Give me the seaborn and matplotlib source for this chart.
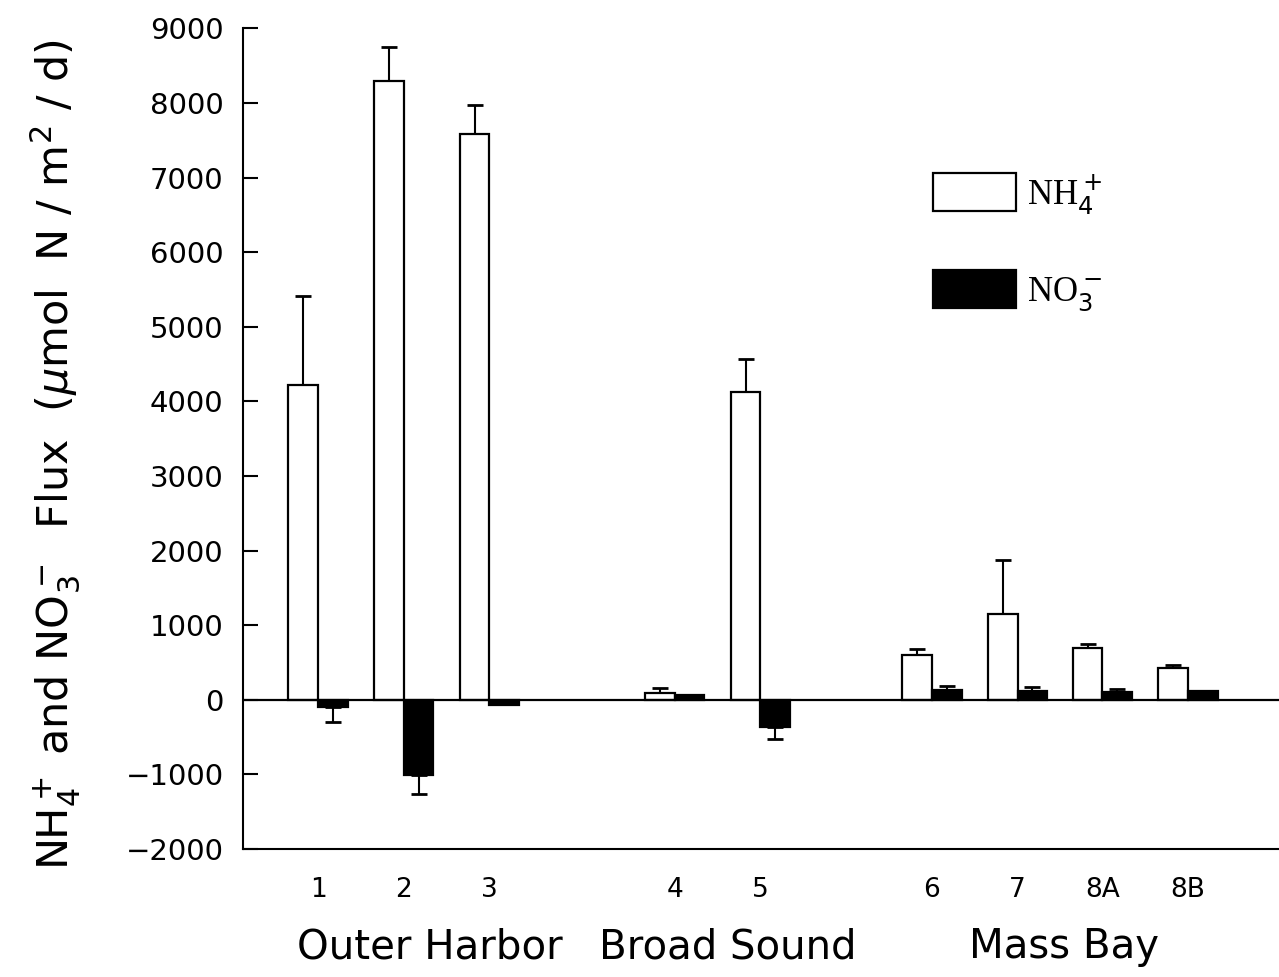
import matplotlib
matplotlib.use("Agg")
import matplotlib.pyplot as plt
import seaborn as sns
import pandas as pd
import numpy as np

# ---- data ----
sites = ['1', '2', '3', '4', '5', '6', '7', '8A', '8B']
site_pos = [0, 1, 2, 4.16, 5.16, 7.16, 8.16, 9.15, 10.15]
nh4 = [4220, 8300, 7580, 90, 4130, 600, 1150, 690, 430]
nh4_err = [1190, 450, 390, 70, 440, 80, 730, 60, 30]
no3 = [-100, -1010, -70, 70, -360, 130, 120, 100, 120]
no3_err = [200, 250, 0, 0, 160, 60, 55, 40, 0]
species = [r'NH$_4^+$', r'NO$_3^-$']
groups = ['Outer Harbor', 'Broad Sound', 'Mass Bay']
group_x = [1.3, 4.78, 8.7]
yticks = list(range(-2000, 9001, 1000))

df = pd.DataFrame({
    'pos': site_pos * 2,
    'val': nh4 + no3,
    'err': nh4_err + no3_err,
    'sp': [species[0]] * len(sites) + [species[1]] * len(sites),
})

sns.set_style('ticks')
plt.rcParams['font.family'] = ['DejaVu Sans']
plt.rcParams['mathtext.fontset'] = 'dejavusans'
plt.rcParams['text.color'] = 'black'
plt.rcParams['axes.labelcolor'] = 'black'

fig = plt.figure(figsize=(12.79, 9.77), dpi=100)
ax = fig.add_axes([0.19, 0.131, 0.81, 0.840])

sns.barplot(data=df, x='pos', y='val', hue='sp', hue_order=species,
            native_scale=True, width=0.7, errorbar=None,
            palette={species[0]: 'white', species[1]: 'black'},
            edgecolor='black', linewidth=1.6, ax=ax, zorder=3)

# one-sided error bars
for cont, sp in zip(ax.containers, species):
    sub = df[df['sp'] == sp].sort_values('pos')
    patches = sorted(cont.patches, key=lambda p: p.get_x())
    for p, (_, row) in zip(patches, sub.iterrows()):
        if row['err'] <= 0:
            continue
        xc = p.get_x() + p.get_width() / 2
        if row['val'] >= 0:
            yerr = [[0], [row['err']]]
        else:
            yerr = [[row['err']], [0]]
        ax.errorbar([xc], [row['val']], yerr=yerr, fmt='none', ecolor='black',
                    elinewidth=1.5, capsize=6, capthick=2.0, zorder=2)

ax.axhline(0, color='black', lw=1.6, zorder=4)

ax.set_xlim(-0.875, 11.21)
ax.set_ylim(-2000, 9000)
ax.set_yticks(yticks)
ax.set_yticklabels([str(v).replace('-', '\u2212') for v in yticks], fontsize=21)
ax.set_xticks(site_pos)
ax.set_xticklabels(sites, fontsize=19)
ax.tick_params(axis='y', direction='in', length=11, width=1.5, pad=14, colors='black')
ax.tick_params(axis='x', length=0, pad=20, colors='black')
for s in ['top', 'right']:
    ax.spines[s].set_visible(False)
for s in ['left', 'bottom']:
    ax.spines[s].set_linewidth(1.5)
    ax.spines[s].set_color('black')

ax.set_xlabel('')
ax.set_ylabel(r'NH$_4^+$ and NO$_3^-$  Flux  ($\mu$mol  N / m$^2$ / d)', fontsize=31, color='black')
ax.yaxis.set_label_coords(-0.155, 0.48)

for g, gx in zip(groups, group_x):
    ax.text(gx, -0.12, g, transform=ax.get_xaxis_transform(), ha='center', va='center',
            fontsize=29, color='black')

sns.move_legend(ax, 'upper left', bbox_to_anchor=(933 / 1279, 1 - 172 / 977),
                bbox_transform=fig.transFigure, frameon=False, title=None,
                prop={'family': 'Liberation Serif', 'size': 25}, labelcolor='black',
                handlelength=2.4, handleheight=1.3, handletextpad=0.3,
                labelspacing=1.55, borderpad=0, borderaxespad=0)

fig.savefig('out.png', dpi=100)
